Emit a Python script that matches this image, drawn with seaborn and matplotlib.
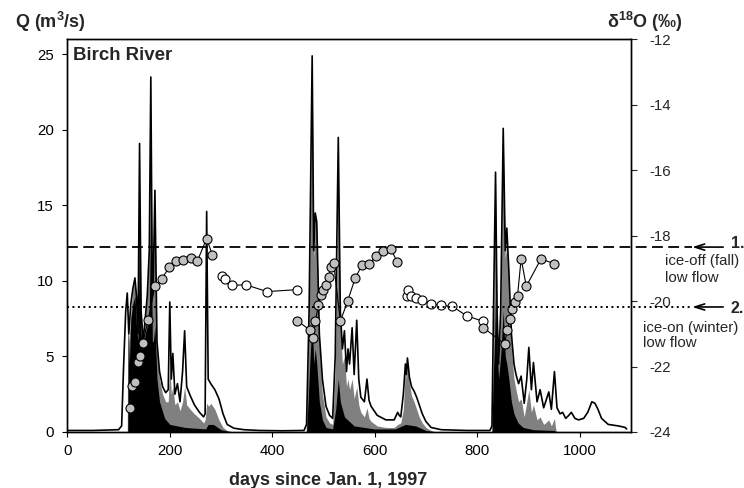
import matplotlib
matplotlib.use('Agg')
import matplotlib.pyplot as plt
import matplotlib.transforms as mtransforms
import seaborn as sns

sns.set_style('ticks')
plt.rcParams['font.family'] = ['Liberation Sans', 'DejaVu Sans']
plt.rcParams['mathtext.fontset'] = 'custom'
plt.rcParams['mathtext.rm'] = 'Liberation Sans'
plt.rcParams['mathtext.default'] = 'regular'
plt.rcParams['axes.unicode_minus'] = False

# discharge (total), m3/s
q_days = [0, 50, 100, 106, 110, 114, 117, 120, 124, 128, 132, 135, 138, 141, 144, 148, 152, 156,
          160, 163, 166, 168, 171, 175, 180, 186, 192, 197, 200, 203, 206, 210, 215, 220, 225,
          229, 233, 240, 248, 258, 266, 269, 272, 275, 280, 288, 296, 304, 312, 325, 345, 375,
          420, 462, 467, 472, 478, 481, 484, 487, 492, 498, 505, 512, 518, 523, 529, 533, 537,
          541, 545, 548, 551, 556, 560, 565, 569, 573, 580, 585, 589, 593, 605, 622, 638, 645,
          648, 651, 656, 660, 662, 664, 668, 672, 677, 682, 687, 693, 700, 710, 730, 780, 825,
          829, 832, 836, 839, 842, 846, 851, 855, 858, 862, 867, 872, 876, 881, 886, 892, 897,
          901, 906, 910, 917, 923, 930, 940, 945, 951, 956, 962, 967, 973, 979, 984, 991, 998,
          1008, 1016, 1024, 1030, 1036, 1043, 1056, 1076, 1089, 1092]
q_total = [0.1, 0.1, 0.15, 0.4, 4.5, 8.0, 9.2, 6.5, 8.5, 9.5, 10.2, 9.0, 6.5, 19.1, 8.0, 6.0, 7.5, 9.0,
           12.0, 23.5, 9.0, 10.5, 16.0, 6.0, 4.0, 3.0, 2.6, 2.8, 8.6, 3.5, 5.2, 2.5, 3.2, 2.0, 4.0,
           6.7, 3.0, 2.4, 1.8, 1.3, 1.0, 1.2, 14.6, 3.5, 3.2, 2.8, 2.2, 1.2, 0.5, 0.25, 0.15, 0.1,
           0.08, 0.1, 0.5, 8.0, 24.9, 12.0, 14.5, 13.9, 6.5, 3.5, 1.7, 1.1, 0.9, 5.0, 19.5, 8.0, 5.5,
           6.7, 4.0, 5.5, 4.5, 6.9, 3.8, 7.4, 3.5, 2.3, 2.0, 3.5, 2.1, 1.7, 1.1, 0.8, 0.8, 1.3,
           1.1, 1.0, 2.5, 4.5, 3.8, 4.9, 3.6, 3.0, 2.7, 2.3, 1.8, 1.2, 0.7, 0.3, 0.15, 0.1, 0.1,
           0.4, 8.0, 17.2, 8.0, 4.5, 8.0, 20.1, 12.0, 13.5, 10.7, 6.5, 4.5, 3.8, 3.2, 3.7, 1.9, 3.5,
           5.6, 2.8, 4.6, 2.0, 2.8, 1.6, 2.65, 1.5, 4.0, 1.6, 1.2, 1.3, 0.9, 1.1, 1.3, 0.9, 0.8,
           0.9, 1.3, 2.0, 1.9, 1.5, 0.9, 0.5, 0.4, 0.3, 0.2]

# gray component
gray_days = [117, 118, 120, 124, 128, 132, 135, 138, 141, 144, 148, 152, 156, 160, 163, 166, 168,
             171, 175, 180, 186, 192, 197, 200, 203, 206, 210, 215, 220, 225, 229, 233, 240, 248,
             258, 266, 269, 272, 276, 280, 288, 296, 304, 312, 325,
             466, 468, 472, 478, 481, 484, 487, 492, 498, 505, 512, 518, 523, 529, 533, 537, 541,
             545, 548, 551, 556, 560, 565, 569, 573, 580, 585, 589, 593, 605, 622, 638, 645, 651,
             656, 660, 662, 664, 668, 672, 677, 682, 687, 693, 700, 710, 720,
             829, 832, 836, 839, 842, 846, 851, 855, 858, 862, 867, 872, 876, 881, 886, 892, 897,
             901, 906, 910, 917, 923, 930, 940, 945, 951, 953, 955]
gray_q = [0, 8.5, 6.0, 8.0, 9.5, 10.0, 9.0, 6.5, 15.0, 8.0, 6.0, 7.5, 9.0, 12.0, 20.0, 9.0, 10.5,
          15.5, 5.5, 3.5, 2.5, 2.0, 2.0, 4.5, 2.5, 3.0, 1.8, 2.0, 1.4, 2.0, 3.0, 1.8, 1.5, 1.2,
          0.9, 0.6, 0.8, 1.9, 1.7, 1.9, 1.5, 0.8, 0.3, 0.1, 0.0,
          0, 2.0, 7.5, 24.0, 11.5, 14.0, 13.5, 5.5, 2.5, 1.0, 0.6, 0.5, 4.0, 17.0, 7.0, 4.5, 5.0,
          3.0, 3.5, 2.8, 3.5, 2.2, 3.0, 1.8, 1.3, 1.0, 1.6, 0.9, 0.7, 0.4, 0.3, 0.3, 0.5, 0.6,
          1.5, 4.3, 3.5, 4.6, 3.2, 2.4, 2.0, 1.5, 1.0, 0.6, 0.3, 0.1, 0,
          0, 7.0, 16.5, 7.5, 4.5, 7.5, 19.5, 11.5, 12.5, 10.0, 5.5, 3.5, 2.8, 2.0, 2.2, 1.0, 2.0,
          2.8, 1.3, 1.8, 0.8, 1.0, 0.5, 0.8, 0.4, 0.9, 0.3, 0]

# black component
black_days = [118, 119, 121, 124, 128, 132, 135, 138, 141, 144, 148, 152, 156, 160, 163, 166, 168,
              171, 175, 180, 190, 200, 230, 270, 275, 285, 300, 320,
              467, 470, 474, 478, 481, 484, 487, 492, 498, 505, 518, 524, 529, 533, 541, 560, 600,
              640, 660, 680, 700, 720,
              829, 831, 834, 836, 839, 842, 846, 851, 855, 858, 862, 867, 872, 880, 890, 910, 950,
              955]
black_q = [0, 6.5, 4.5, 7.5, 8.5, 9.0, 7.0, 6.0, 14.0, 6.5, 5.5, 6.5, 7.0, 8.0, 15.0, 6.0, 6.0,
           7.0, 3.5, 2.0, 0.9, 0.5, 0.3, 0.2, 0.5, 0.5, 0.15, 0,
           0, 2.0, 5.0, 7.5, 4.5, 5.5, 4.5, 2.0, 0.8, 0.3, 0.2, 1.5, 3.5, 2.0, 1.0, 0.4, 0.2,
           0.2, 0.5, 0.4, 0.1, 0,
           0, 3.0, 6.0, 9.0, 5.5, 3.5, 5.0, 8.0, 5.0, 4.5, 3.5, 2.0, 1.2, 0.6, 0.3, 0.15, 0.1, 0]

# d18O samples (permil)
g1_days = [122.6, 125.8, 132.3, 137.5, 142, 147, 158, 171, 184, 199, 212, 226, 240.6, 254, 272, 283]
g1_d18o = [-23.27, -22.58, -22.48, -21.87, -21.67, -21.29, -20.57, -19.53, -19.32, -18.97, -18.77,
           -18.73, -18.68, -18.77, -18.09, -18.58]
w1_days = [301, 307, 322, 348, 390, 449]
w1_d18o = [-19.22, -19.33, -19.52, -19.50, -19.71, -19.65]
g2_days = [449, 473, 480.5, 484.5, 490, 495.5, 500, 505, 510, 515, 520, 533, 547, 562, 575,
           589.5, 602.5, 615.5, 631.5, 644.5]
g2_d18o = [-20.6, -20.88, -21.13, -20.62, -20.11, -19.81, -19.65, -19.50, -19.25, -18.96, -18.84,
           -20.62, -20.01, -19.30, -18.91, -18.87, -18.63, -18.46, -18.40, -18.82]
w2_days = [663, 666, 670.5, 680, 693, 709.5, 729, 751.5, 779.5, 812]
w2_d18o = [-19.86, -19.65, -19.86, -19.91, -19.98, -20.08, -20.13, -20.16, -20.45, -20.62]
g3_days = [812, 854, 858.5, 865, 869, 873.5, 879, 886, 896, 924.7, 951]
g3_d18o = [-20.81, -21.31, -20.88, -20.55, -20.24, -20.04, -19.83, -18.70, -19.55, -18.71, -18.86]

ice_off_level = -18.35
ice_on_level = -20.18

fig = plt.figure(figsize=(7.44, 4.88), dpi=100)
ax = fig.add_axes([0.0905, 0.1148, 0.7573, 0.8047])

ax.fill_between(gray_days, gray_q, color='#808080', lw=0)
ax.fill_between(black_days, black_q, color='black', lw=0)
sns.lineplot(x=q_days, y=q_total, ax=ax, color='black', lw=1.2, estimator=None, sort=False)
ax.set_xlim(0, 1100)
ax.set_ylim(0, 26)
ax.set_xticks(range(0, 1001, 200))
ax.set_yticks(range(0, 26, 5))
ax.set_ylabel('')
ax.tick_params(axis='both', direction='out', length=3.6, width=0.8, labelsize=10.8, colors='black')
ax.tick_params(axis='y', pad=6)
ax.tick_params(axis='x', pad=5)
ax.set_xlabel('days since Jan. 1, 1997', fontsize=13, fontweight='bold')
ax.xaxis.set_label_coords(0.4636, -0.102)
ax.text(0.010, 0.947, 'Birch River', transform=ax.transAxes, fontsize=13.4,
        fontweight='bold', va='baseline')

ax2 = ax.twinx()
for d, v, face in [(g1_days, g1_d18o, '#c0c0c0'), (w1_days, w1_d18o, 'white'),
                   (g2_days, g2_d18o, '#c0c0c0'), (w2_days, w2_d18o, 'white'),
                   (g3_days, g3_d18o, '#c0c0c0')]:
    sns.lineplot(x=d, y=v, ax=ax2, color='black', lw=0.8, estimator=None, sort=False,
                 marker='o', markersize=6.5, markerfacecolor=face, markeredgecolor='black',
                 markeredgewidth=0.8, zorder=2)
ax2.set_ylim(-24, -12)
ax2.set_yticks(range(-24, -11, 2))
ax2.set_ylabel('')
ax2.tick_params(axis='y', direction='out', length=4.3, width=0.8, labelsize=10.8, pad=9)

for a in (ax, ax2):
    for s in a.spines.values():
        s.set_linewidth(1.0)
        s.set_color('black')

trans = mtransforms.blended_transform_factory(ax2.transAxes, ax2.transData)
ax2.plot([0, 1.109], [ice_off_level, ice_off_level], transform=trans, clip_on=False,
         color='black', lw=1.3, dashes=(6, 3), zorder=1)
ax2.plot([0, 1.111], [ice_on_level, ice_on_level], transform=trans, clip_on=False,
         color='black', lw=1.4, ls=(0, (1, 1.8)), zorder=3)
for lvl in (ice_off_level, ice_on_level):
    ax2.annotate('', xy=(1.109, lvl), xycoords=trans, xytext=(1.164, lvl), textcoords=trans,
                 arrowprops=dict(arrowstyle='->,head_length=0.7,head_width=0.22', lw=1.2,
                                 color='black', shrinkA=0, shrinkB=0),
                 annotation_clip=False)

ax2.text(1.1775, -18.38, '1.', transform=trans, fontsize=11.5, fontweight='bold', va='baseline')
ax2.text(1.061, -18.90, 'ice-off (fall)', transform=trans, fontsize=10.8, va='baseline')
ax2.text(1.061, -19.41, 'low flow', transform=trans, fontsize=10.8, va='baseline')
ax2.text(1.1775, -20.36, '2.', transform=trans, fontsize=11.5, fontweight='bold', va='baseline')
ax2.text(1.022, -20.93, 'ice-on (winter)', transform=trans, fontsize=10.8, va='baseline')
ax2.text(1.022, -21.39, 'low flow', transform=trans, fontsize=10.8, va='baseline')

fig.text(15 / 744, 1 - 28 / 488, 'Q (m$^3$/s)', fontsize=13, fontweight='bold', va='baseline')
fig.text(607 / 744, 1 - 28 / 488, 'δ$^{18}$O (‰)', fontsize=13, fontweight='bold', va='baseline')

fig.savefig('out.png', dpi=100)
